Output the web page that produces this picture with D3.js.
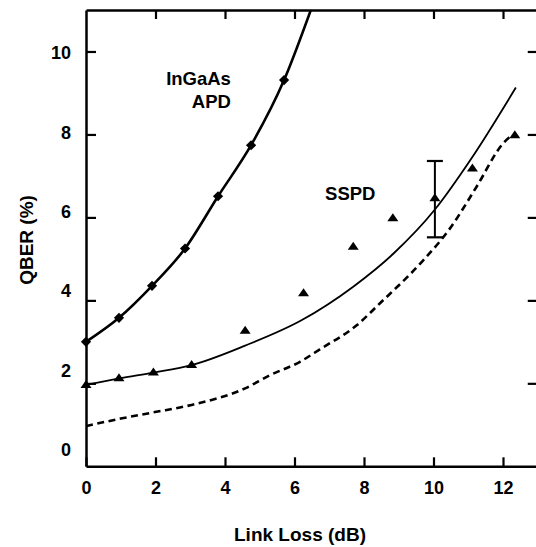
<!DOCTYPE html>
<html>
<head>
<meta charset="utf-8">
<script src="https://cdn.jsdelivr.net/npm/d3@7"></script>
<style>
  html, body { margin: 0; padding: 0; background: #fff; }
  svg { display: block; }
  text { font-family: "Liberation Sans", Arial, sans-serif; font-weight: bold; fill: #000; }
</style>
</head>
<body>
<script>
// ---- data ----
const xTicks = [0, 2, 4, 6, 8, 10, 12];
const yTicks = [0, 2, 4, 6, 8, 10];

// InGaAs APD measured points (diamonds)
const apdX = [0, 0.95, 1.9, 2.85, 3.8, 4.75, 5.7];
const apdY = [3.0, 3.58, 4.35, 5.25, 6.51, 7.74, 9.31];
// InGaAs APD fit curve
const apdCurveX = [0, 0.95, 1.9, 2.85, 3.8, 4.75, 5.7, 6.47];
const apdCurveY = [3.0, 3.58, 4.35, 5.25, 6.51, 7.74, 9.31, 11.0];

// SSPD measured points (triangles)
const ssX = [0, 0.95, 1.94, 3.04, 4.58, 6.26, 7.69, 8.83, 10.04, 11.12, 12.34];
const ssY = [1.96, 2.12, 2.26, 2.44, 3.27, 4.17, 5.29, 5.98, 6.46, 7.18, 7.98];
// error bar on one SSPD point
const errX = [10.04];
const errLow = [5.52];
const errHigh = [7.36];

// SSPD solid model curve
const ssCurveX = [0, 0.95, 1.94, 3.04, 4.58, 6.2, 7.69, 8.85, 10.04, 11.09, 12.37];
const ssCurveY = [1.96, 2.12, 2.26, 2.44, 2.91, 3.52, 4.33, 5.13, 6.19, 7.42, 9.13];

// SSPD dashed curve
const dashX = [0, 1.0, 1.94, 3.04, 4.58, 5.3, 6.16, 6.73, 7.79, 8.46, 9.71, 10.47, 11.24, 12.0, 12.2, 12.34];
const dashY = [0.97, 1.15, 1.30, 1.48, 1.88, 2.2, 2.52, 2.82, 3.40, 3.93, 4.97, 5.73, 6.74, 7.78, 7.94, 7.98];

// texts
const xTitle = "Link Loss (dB)";
const yTitle = "QBER (%)";
const annotations = [
  { text: "InGaAs", x: 4.17, y: 9.19, anchor: "end" },
  { text: "APD", x: 4.17, y: 8.63, anchor: "end" },
  { text: "SSPD", x: 6.88, y: 6.42, anchor: "start" }
];

// ---- layout ----
const W = 536, H = 547;
const mLeft = 86, mTop = 10, mBottom = 466.3;
const xMax = 13, yMax = 11;
const pxPerX = 34.75;

const x = d3.scaleLinear().domain([0, xMax]).range([mLeft, mLeft + xMax * pxPerX]);
const y = d3.scaleLinear().domain([0, yMax]).range([mBottom, mTop]);
// tick labels in the scan drift slightly from their ticks
const yLab = d3.scaleLinear().domain([0, 10]).range([450, 53]);

const svg = d3.select("body").append("svg").attr("width", W).attr("height", H);

svg.append("defs").append("clipPath").attr("id", "plot")
  .append("rect").attr("x", x(0)).attr("y", y(yMax))
  .attr("width", x(xMax) - x(0)).attr("height", y(0) - y(yMax));

function styleAxis(g) {
  g.selectAll("path.domain").attr("stroke", "#000").attr("stroke-width", 2.5);
  g.selectAll(".tick line").attr("stroke", "#000").attr("stroke-width", 2.2);
  g.selectAll("text").style("font-size", "18px").style("font-family", '"Liberation Sans", Arial, sans-serif').style("font-weight", "bold").attr("fill", "#000");
}

// bottom axis
svg.append("g").attr("transform", `translate(0,${y(0)})`)
  .call(d3.axisBottom(x).tickValues(xTicks).tickSizeInner(-9).tickSizeOuter(0).tickPadding(15).tickFormat(d3.format("d")))
  .call(styleAxis);
// top axis
svg.append("g").attr("transform", `translate(0,${y(yMax)})`)
  .call(d3.axisTop(x).tickValues(xTicks.filter(d => d > 0)).tickSizeInner(-9).tickSizeOuter(0).tickFormat(""))
  .call(styleAxis);
// left axis (ticks)
svg.append("g").attr("transform", `translate(${x(0)},0)`)
  .call(d3.axisLeft(y).tickValues(yTicks.filter(d => d > 0)).tickSizeInner(-10).tickSizeOuter(0).tickFormat(""))
  .call(styleAxis);
// left axis labels
svg.append("g").attr("transform", `translate(${x(0)},0)`)
  .call(d3.axisLeft(yLab).tickValues(yTicks).tickSize(0).tickPadding(15).tickFormat(d3.format("d")))
  .call(g => g.select("path.domain").remove())
  .call(styleAxis);
// right axis
svg.append("g").attr("transform", `translate(${x(xMax)},0)`)
  .call(d3.axisRight(y).tickValues(yTicks.filter(d => d > 0)).tickSizeInner(-10).tickSizeOuter(0).tickFormat(""))
  .call(styleAxis);

// axis titles
svg.append("text").attr("x", 300).attr("y", 541).attr("text-anchor", "middle")
  .style("font-size", "19px").text(xTitle);
svg.append("text").attr("transform", "translate(33,240) rotate(-90)").attr("text-anchor", "middle")
  .style("font-size", "19px").text(yTitle);

// curves
const plot = svg.append("g").attr("clip-path", "url(#plot)");
const line = d3.line().x(d => x(d[0])).y(d => y(d[1])).curve(d3.curveMonotoneX);

plot.append("path").datum(d3.zip(apdCurveX, apdCurveY))
  .attr("d", line).attr("fill", "none").attr("stroke", "#000").attr("stroke-width", 2.6);
plot.append("path").datum(d3.zip(ssCurveX, ssCurveY))
  .attr("d", line).attr("fill", "none").attr("stroke", "#000").attr("stroke-width", 1.8);
plot.append("path").datum(d3.zip(dashX, dashY))
  .attr("d", line).attr("fill", "none").attr("stroke", "#000").attr("stroke-width", 2.6)
  .attr("stroke-dasharray", "7,4.5");

// error bar
const eb = svg.append("g").selectAll("g").data(d3.range(errX.length)).join("g");
eb.append("line").attr("x1", i => x(errX[i])).attr("x2", i => x(errX[i]))
  .attr("y1", i => y(errLow[i])).attr("y2", i => y(errHigh[i]))
  .attr("stroke", "#000").attr("stroke-width", 2);
eb.append("line").attr("x1", i => x(errX[i]) - 8).attr("x2", i => x(errX[i]) + 8)
  .attr("y1", i => y(errLow[i])).attr("y2", i => y(errLow[i]))
  .attr("stroke", "#000").attr("stroke-width", 2.2);
eb.append("line").attr("x1", i => x(errX[i]) - 8).attr("x2", i => x(errX[i]) + 8)
  .attr("y1", i => y(errHigh[i])).attr("y2", i => y(errHigh[i]))
  .attr("stroke", "#000").attr("stroke-width", 2.2);

// markers
svg.append("g").selectAll("path").data(d3.zip(apdX, apdY)).join("path")
  .attr("transform", d => `translate(${x(d[0])},${y(d[1])}) rotate(45)`)
  .attr("d", d3.symbol(d3.symbolSquare, 52)())
  .attr("fill", "#000");

const tri = "M0,-5L5.5,3L-5.5,3Z";
svg.append("g").selectAll("path").data(d3.zip(ssX, ssY)).join("path")
  .attr("transform", d => `translate(${x(d[0])},${y(d[1])})`)
  .attr("d", tri).attr("fill", "#000");

// annotations
svg.append("g").selectAll("text").data(annotations).join("text")
  .attr("x", d => x(d.x)).attr("y", d => y(d.y))
  .attr("text-anchor", d => d.anchor)
  .style("font-size", "18.5px")
  .text(d => d.text);
</script>
</body>
</html>
